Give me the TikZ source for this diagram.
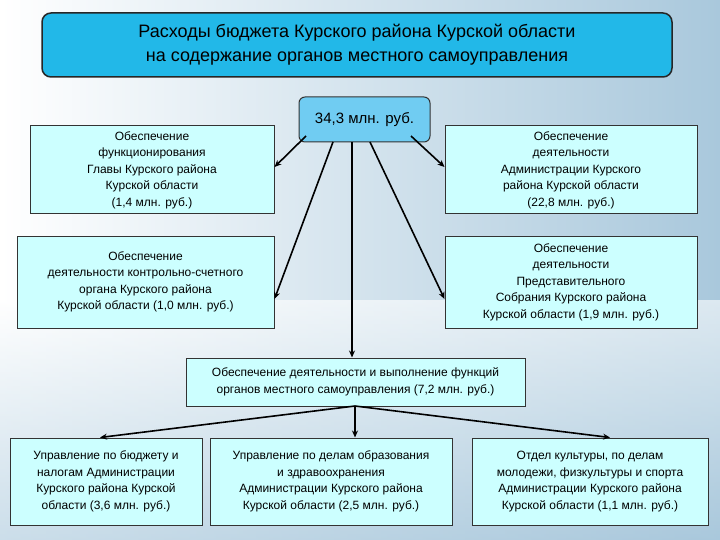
\documentclass[tikz,border=0pt]{standalone}
\usepackage{fontspec}
\setmainfont{Liberation Sans}
\usetikzlibrary{arrows.meta}
\definecolor{bxfill}{HTML}{CCFFFF}
\definecolor{ttl}{HTML}{22B8E8}
\definecolor{ctr}{HTML}{70CCF2}
\definecolor{bgblue}{HTML}{A9C8DC}
\tikzset{
 bx/.style={draw=black!80,line width=1pt,fill=bxfill,align=center,inner sep=1pt,font=\fontsize{12}{16.5}\selectfont},
 ar/.style={line width=1.6pt,-{Stealth[length=7pt,width=6pt]}},
 ln/.style={line width=1.6pt}
}
\begin{document}
\begin{tikzpicture}[x=1pt,y=-1pt]
\useasboundingbox (0,0) rectangle (720,540);
\shade[left color=white,right color=bgblue] (0,0) rectangle (720,540);
\shade[top color=white,bottom color=bgblue,opacity=0.6] (0,300) rectangle (720,540);
\node[draw=black!85,line width=1.5pt,rounded corners=9pt,fill=ttl,minimum width=630pt,minimum height=64pt,align=center,font=\fontsize{18}{24}\selectfont] (t) at (357,45) {Расходы бюджета Курского района Курской области\\на содержание органов местного самоуправления};
\node[bx,minimum width=244pt,minimum height=88pt] (l1) at (152,170) {Обеспечение\\функционирования\\Главы Курского района\\Курской области\\(1,4 млн. руб.)};
\node[bx,minimum width=252pt,minimum height=88pt] (r1) at (571,170) {Обеспечение\\деятельности\\Администрации Курского\\района Курской области\\(22,8 млн. руб.)};
\node[bx,minimum width=257pt,minimum height=92pt] (l2) at (145.5,282) {Обеспечение\\деятельности контрольно-счетного\\органа Курского района\\Курской области (1,0 млн. руб.)};
\node[bx,minimum width=252pt,minimum height=92pt] (r2) at (571,282) {Обеспечение\\деятельности\\Представительного\\Собрания Курского района\\Курской области (1,9 млн. руб.)};
\node[draw=black!80,line width=1pt,rounded corners=6pt,fill=ctr,minimum width=131pt,minimum height=45pt,font=\fontsize{15}{18}\selectfont] (c) at (364.5,119.5) {34,3 млн. руб.};
\node[bx,minimum width=339pt,minimum height=48pt] (m) at (355.5,382) {Обеспечение деятельности и выполнение функций\\органов местного самоуправления (7,2 млн. руб.)};
\node[bx,minimum width=192pt,minimum height=87pt] (b1) at (106,481.5) {Управление по бюджету и\\налогам Администрации\\Курского района Курской\\области (3,6 млн. руб.)};
\node[bx,minimum width=242pt,minimum height=87pt] (b2) at (331,481.5) {Управление по делам образования\\и здравоохранения\\Администрации Курского района\\Курской области (2,5 млн. руб.)};
\node[bx,minimum width=236pt,minimum height=87pt] (b3) at (590,481.5) {Отдел культуры, по делам\\молодежи, физкультуры и спорта\\Администрации Курского района\\Курской области (1,1 млн. руб.)};
\coordinate (cl) at (306,136);
\coordinate (cr) at (411,136);
\coordinate (c1) at (333,142);
\coordinate (c2) at (352,142);
\coordinate (c3) at (370,142);
\draw[ar] (cl) -- (l1.east |- 0,167);
\draw[ar] (cr) -- (r1.west |- 0,167);
\draw[ar] (c1) -- (l2.east |- 0,299);
\draw[ar] (c3) -- (r2.west |- 0,299);
\draw[ar] (c2) -- (m.north -| c2);
\coordinate (mb) at (355,406);
\draw[ar] (mb) -- (b1.north -| 100,0);
\draw[ar] (mb) -- (b2.north -| mb);
\draw[ar] (mb) -- (b3.north -| 610,0);
\end{tikzpicture}
\end{document}
